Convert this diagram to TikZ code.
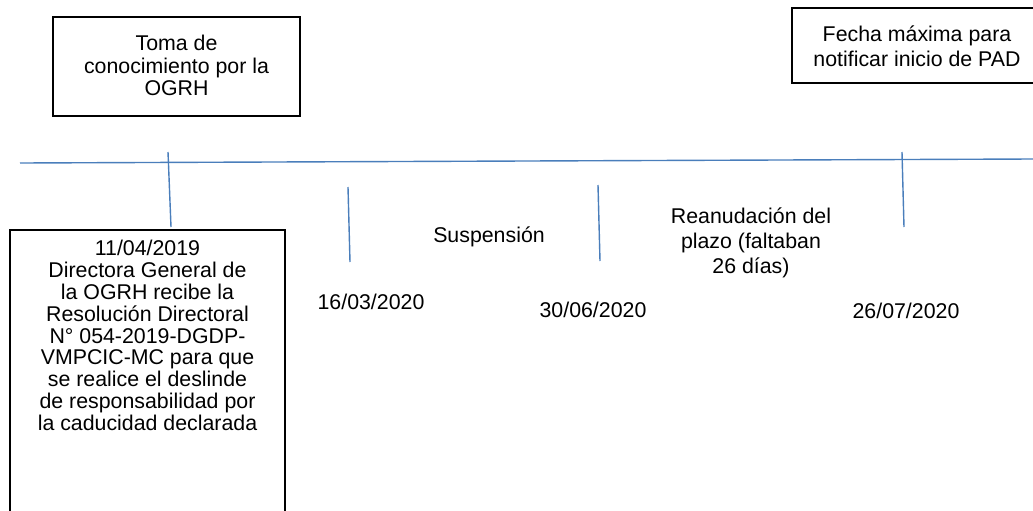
\documentclass[tikz,border=0pt]{standalone}
\usepackage{fontspec}
\setmainfont{Liberation Sans}
\definecolor{lineblue}{RGB}{74,126,187}
\begin{document}
\begin{tikzpicture}[x=0.75pt,y=-0.75pt,
  box/.style={draw=black,line width=1.15pt,inner sep=0pt},
  txt/.style={align=center,inner sep=0pt,font=\fontsize{16}{16.4}\selectfont},
  tick/.style={draw=lineblue,line width=1.05pt}]
\useasboundingbox (0,0) rectangle (1033,511);
\clip (0,0) rectangle (1033,511);
% boxes
\node[box,minimum width=247*0.75pt,minimum height=99*0.75pt] (b1) at (176.5,66.5) {};
\node[txt,font=\fontsize{16}{17}\selectfont] (t1) at (176.5,65.5) {Toma de\\conocimiento por la\\OGRH};
\node[box,minimum width=275*0.75pt,minimum height=310*0.75pt] (b2) at (147.5,385) {};
\node[txt] (t2) at (147.5,335.5) {11/04/2019\\Directora General de\\la OGRH recibe la\\Resolución Directoral\\N° 054-2019-DGDP-\\VMPCIC-MC para que\\se realice el deslinde\\de responsabilidad por\\la caducidad declarada};
\node[box,minimum width=270*0.75pt,minimum height=75*0.75pt] (b3) at (927,45.5) {};
\node[txt,font=\fontsize{16}{18.8}\selectfont] (t3) at (917,46) {Fecha máxima para\\notificar inicio de PAD};
% timeline
\coordinate (tlL) at (20,163);
\coordinate (tlR) at (1033,159);
\draw[tick] (tlL) -- (tlR);
\coordinate (k1a) at (168,152); \coordinate (k1b) at (171,227);
\coordinate (k2a) at (348,187); \coordinate (k2b) at (350,262);
\coordinate (k3a) at (598,185); \coordinate (k3b) at (600,261);
\coordinate (k4a) at (902,152); \coordinate (k4b) at (904,227);
\draw[tick] (k1a) -- (k1b);
\draw[tick] (k2a) -- (k2b);
\draw[tick] (k3a) -- (k3b);
\draw[tick] (k4a) -- (k4b);
% labels
\node[txt] (d1) at (371,302) {16/03/2020};
\node[txt] (d2) at (593,310) {30/06/2020};
\node[txt] (d3) at (906,311) {26/07/2020};
\node[txt] (s) at (489,237) {Suspensión};
\node[txt,font=\fontsize{16}{18.8}\selectfont] (r) at (751,243) {Reanudación del\\plazo (faltaban\\26 días)};
\end{tikzpicture}
\end{document}
